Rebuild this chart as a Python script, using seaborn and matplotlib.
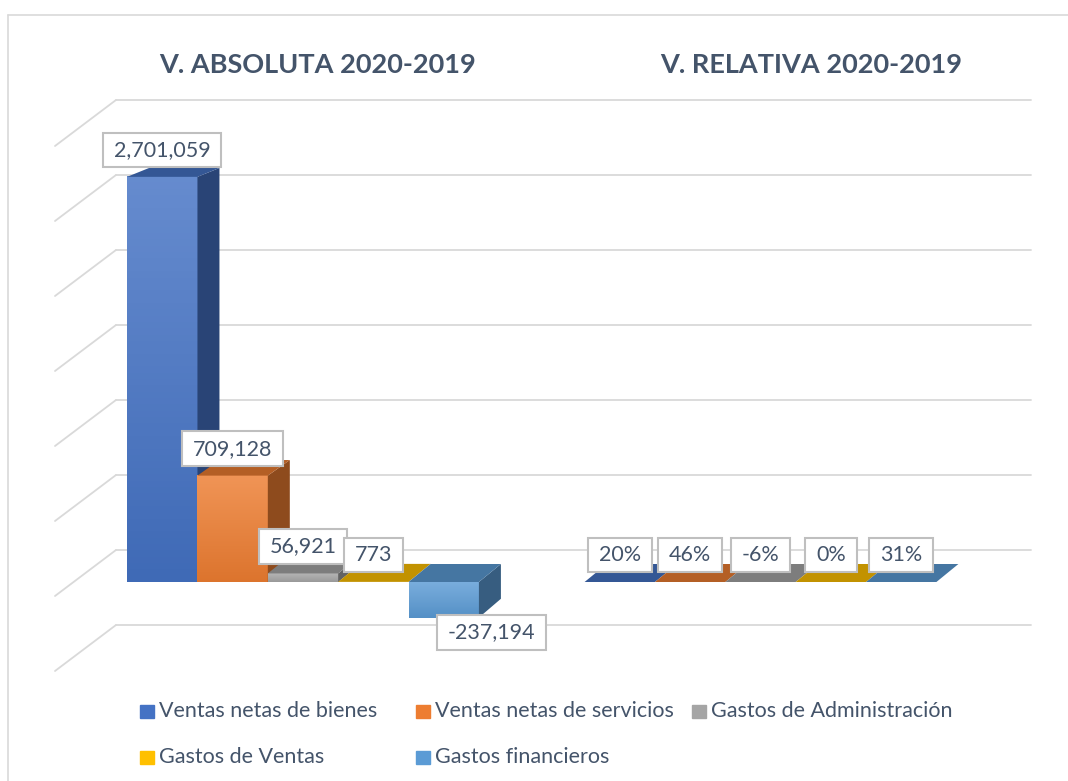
import numpy as np
import pandas as pd
import matplotlib
matplotlib.use("Agg")
import matplotlib.pyplot as plt
import seaborn as sns
from matplotlib.patches import Polygon, Rectangle
from matplotlib.path import Path
from matplotlib.colors import to_rgb, LinearSegmentedColormap
from matplotlib.lines import Line2D

# ---------------- data ----------------
categorias = ["V. ABSOLUTA 2020-2019", "V. RELATIVA 2020-2019"]
series = ["Ventas netas de bienes", "Ventas netas de servicios",
          "Gastos de Administración", "Gastos de Ventas", "Gastos financieros"]
variacion_absoluta = [2701059, 709128, 56921, 773, -237194]
variacion_relativa = [0.20, 0.46, -0.06, 0.00, 0.31]
colores = ["#4472C4", "#ED7D31", "#A5A5A5", "#FFC000", "#5B9BD5"]
valores_grilla = list(range(-500000, 3000001, 500000))

# ---------------- layout ----------------
W, H, DPI = 1068, 781, 100
TXT = "#44546A"
GRID = "#D9D9D9"
PX_CAT0, PX_PER_CAT = 303, 457.5      # pixel x of first category centre, px per category
PY_ZERO, PX_PER_UNIT = 582, 150 / 1e6  # pixel y of zero (front plane), px per unit
DEPTH_DX = 22
BACK_DY = -32
WALL_X0, WALL_X1, SIDE_X0, SIDE_DY = 116, 1031, 55, 46

sns.set_theme(style="white")
plt.rcParams["font.family"] = ["Lato", "DejaVu Sans"]

df = pd.DataFrame({
    "categoria": np.repeat(categorias, len(series)),
    "serie": series * len(categorias),
    "valor": variacion_absoluta + variacion_relativa,
})

fig = plt.figure(figsize=(W / DPI, H / DPI), dpi=DPI)
ax = fig.add_axes([0, 0, 1, 1])
sns.barplot(data=df, x="categoria", y="valor", hue="serie", order=categorias,
            hue_order=series, palette=dict(zip(series, colores)), width=0.769,
            saturation=1, errorbar=None, legend=False, linewidth=0, ax=ax)

XLIM = (-PX_CAT0 / PX_PER_CAT, (W - PX_CAT0) / PX_PER_CAT)
YLIM = (-(H - PY_ZERO) / PX_PER_UNIT, PY_ZERO / PX_PER_UNIT)
ax.set_xlim(*XLIM)
ax.set_ylim(*YLIM)
ax.set_axis_off()


def to_px(x, y):
    dx, dy = ax.transData.transform((x, y))
    return dx, H - dy


def to_data(px, py):
    return tuple(ax.transData.inverted().transform((px, H - py)))


def shade(c, f):
    r, g, b = to_rgb(c)
    return (r * f, g * f, b * f)


def tint(c, f):
    r, g, b = to_rgb(c)
    return (r + (1 - r) * f, g + (1 - g) * f, b + (1 - b) * f)


def depth_dy(py):
    return -(18 - 0.0225 * (PY_ZERO - py))


# ---------------- gridlines (back wall + side wall) ----------------
for v in valores_grilla:
    _, py = to_px(0, v)
    yb = py + BACK_DY
    xa, ya = to_data(WALL_X0, yb)
    xb, _ = to_data(WALL_X1, yb)
    xc, yc = to_data(SIDE_X0, yb + SIDE_DY)
    ax.add_line(Line2D([xa, xb], [ya, ya], color=GRID, lw=1.3, zorder=1))
    ax.add_line(Line2D([xc, xa], [yc, ya], color=GRID, lw=1.3, zorder=1))


# ---------------- label box style ----------------
def caja(x0, y0, width, height, mutation_size):
    pxx = 0.5 * mutation_size
    pyy = 0.34 * mutation_size
    x0 -= pxx
    y0 -= pyy
    x1 = x0 + width + 2 * pxx
    y1 = y0 + height + 2 * pyy
    return Path([(x0, y0), (x1, y0), (x1, y1), (x0, y1), (x0, y0)], closed=True)


# ---------------- 3D faces, gradients, labels ----------------
for k, cont in enumerate(ax.containers):
    base = colores[k]
    cmap = LinearSegmentedColormap.from_list("g", [shade(base, 0.93), tint(base, 0.18)])
    for j, bar in enumerate(cont):
        x0, w = bar.get_x(), bar.get_width()
        y, h = bar.get_y(), bar.get_height()
        ytop, ybot = max(y, y + h), min(y, y + h)
        px0, pyt = to_px(x0, ytop)
        px1, pyb = to_px(x0 + w, ybot)
        zt = 10 + 4 * k
        bar.set_zorder(zt)
        if pyb - pyt > 1:
            ax.imshow(np.linspace(0, 1, 64).reshape(-1, 1), extent=[x0, x0 + w, ybot, ytop],
                      origin="lower", aspect="auto", cmap=cmap, zorder=zt + 0.5)
        dt = depth_dy(pyt)
        db = depth_dy(pyb)
        top = [(px0, pyt), (px1, pyt), (px1 + DEPTH_DX, pyt + dt), (px0 + DEPTH_DX, pyt + dt)]
        side = [(px1, pyb), (px1, pyt), (px1 + DEPTH_DX, pyt + dt), (px1 + DEPTH_DX, pyb + db)]
        ax.add_patch(Polygon([to_data(*p) for p in side], closed=True, fc=shade(base, 0.6),
                             ec="none", zorder=zt + 1))
        ax.add_patch(Polygon([to_data(*p) for p in top], closed=True, fc=shade(base, 0.76),
                             ec="none", zorder=zt + 2))
        val = h
        texto = f"{val:,.0f}" if j == 0 else f"{val:.0%}"
        cx = x0 + w / 2
        if val < 0 and (pyb - pyt) > 1:
            xy, off = (cx, ybot), (48, -15)
        else:
            xy, off = (cx, ytop), (0, 27)
        ax.annotate(texto, xy=xy, xytext=off, textcoords="offset pixels",
                    ha="center", va="center", fontsize=15.5, color=TXT, zorder=100,
                    bbox=dict(boxstyle=caja, fc="white", ec="#BFBFBF", lw=1.5))

ax.set_xlim(*XLIM)
ax.set_ylim(*YLIM)

# ---------------- category titles ----------------
for txt, (tx, ty) in zip(categorias, [(318, 65), (811, 65)]):
    fig.text(tx / W, 1 - ty / H, txt, ha="center", va="center", fontsize=19.5,
             fontweight="bold", color=TXT)

# ---------------- legend ----------------
LEG_ROWS = [711, 757]
LEG_COLS = [140, 416, 692]
for i, (s, c) in enumerate(zip(series, colores)):
    r, col = divmod(i, 3)
    lx, ly = LEG_COLS[col], LEG_ROWS[r]
    fig.add_artist(Rectangle((lx / W, 1 - (ly + 7) / H), 14 / W, 13 / H, color=c,
                             transform=fig.transFigure))
    fig.text((lx + 19) / W, 1 - ly / H, s, ha="left", va="center", fontsize=15.5, color=TXT)

# ---------------- chart frame ----------------
fig.add_artist(Line2D([8 / W, 8 / W], [0, 1 - 15 / H], color=GRID, lw=1.2,
                      transform=fig.transFigure))
fig.add_artist(Line2D([8 / W, 1], [1 - 15 / H, 1 - 15 / H], color=GRID, lw=1.2,
                      transform=fig.transFigure))

fig.savefig("out.png", dpi=DPI, facecolor="white")
